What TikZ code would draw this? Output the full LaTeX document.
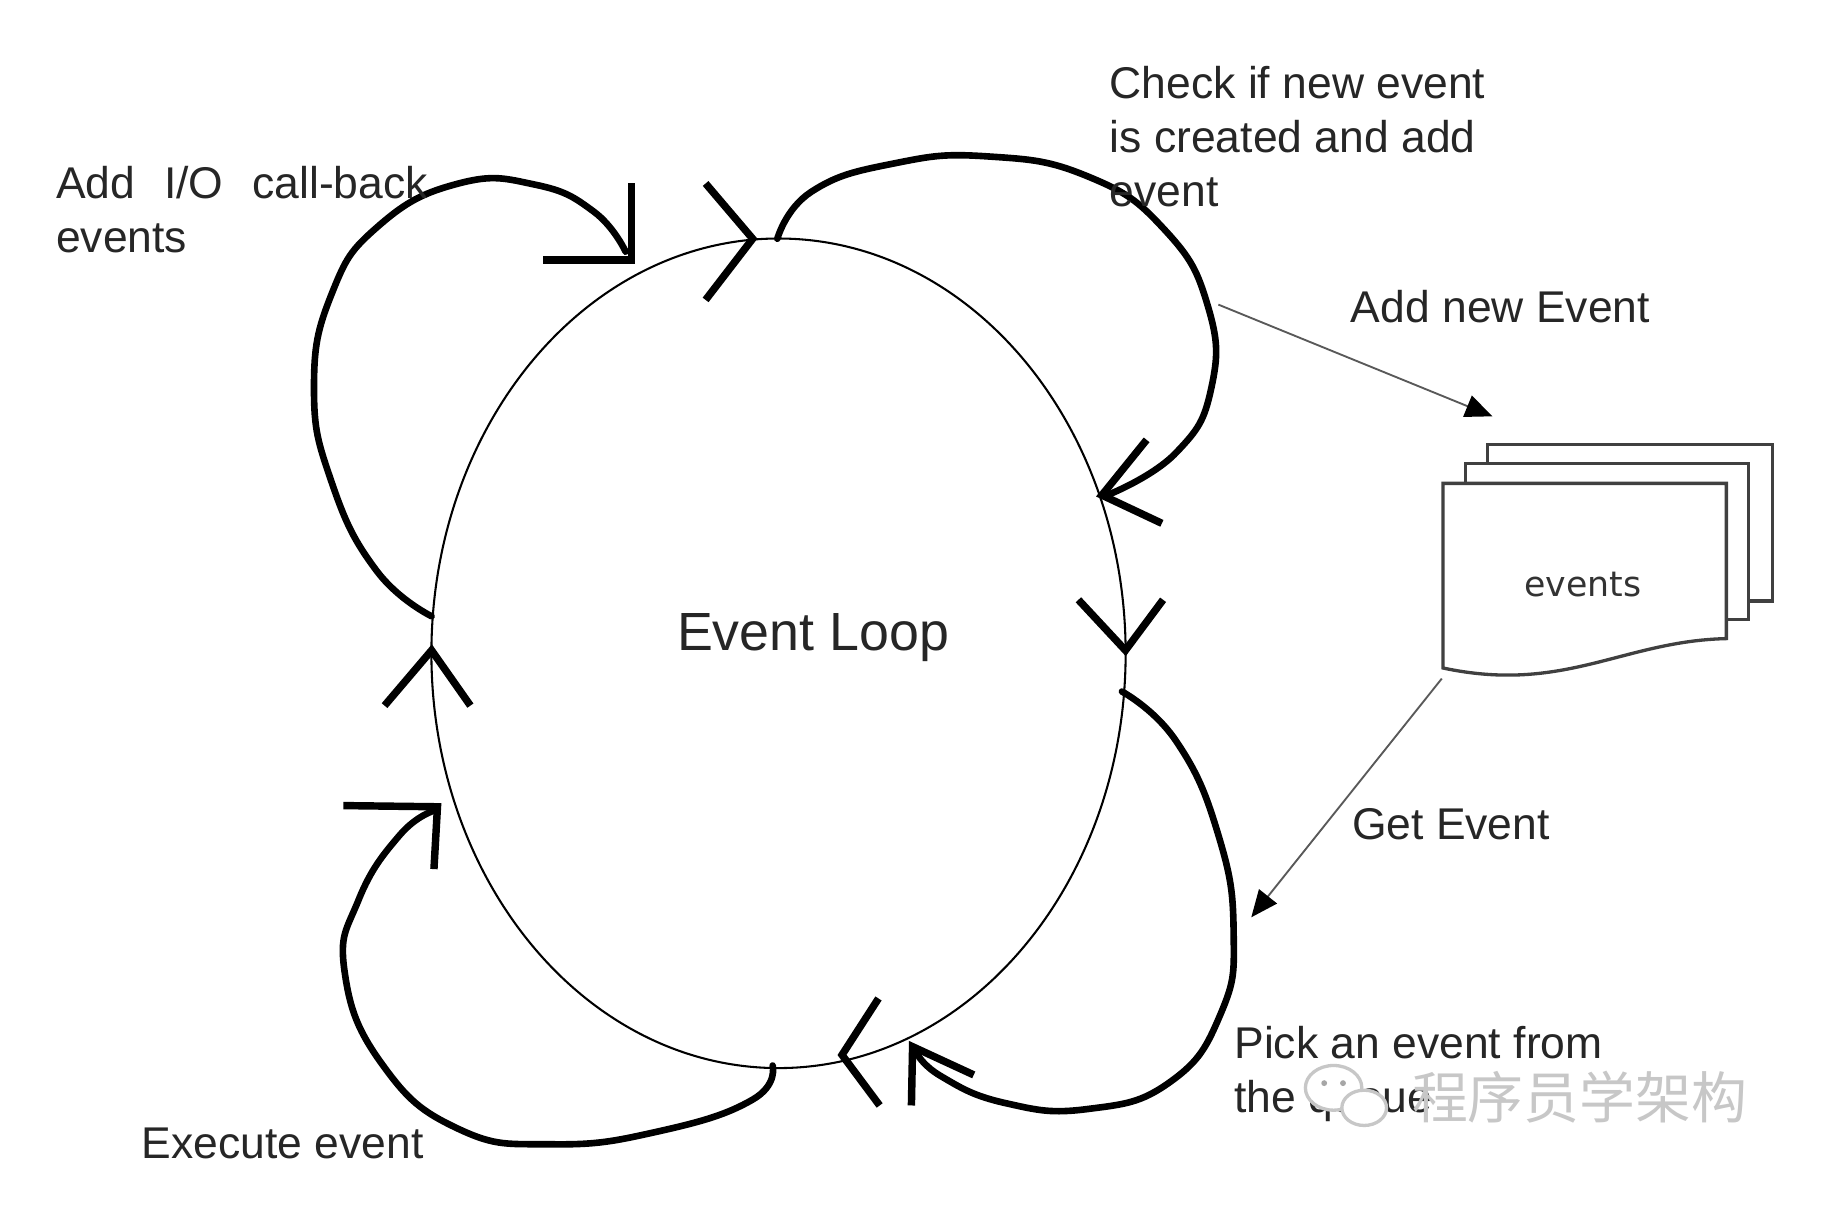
\documentclass[tikz,border=0pt]{standalone}
\usepackage{fontspec}
\setmainfont{Liberation Sans}
\newfontfamily\evfont{DejaVu Sans}
\newfontfamily\cjkfont{Noto Sans CJK SC}
\usetikzlibrary{arrows.meta,shapes.geometric}
\begin{document}
\begin{tikzpicture}[x=0.01cm,y=-0.01cm,
  lbl/.style={inner sep=0pt, text=black!85, anchor=base west, align=left,
    font=\fontsize{10.75pt}{13.1pt}\selectfont},
  loopline/.style={line width=1.6pt, line cap=round, line join=round},
  headline/.style={line width=1.8pt, line cap=butt, line join=miter},
  thinarrow/.style={line width=0.45pt, draw=black!65,
    -{Triangle[length=6.5pt,width=5.5pt,color=black]}},
  docbox/.style={draw=black!75, line width=0.8pt, fill=white}
]
\useasboundingbox (0,0) rectangle (1568,1029);
\fill[white] (0,0) rectangle (1568,1029);

% main ellipse
\node[draw, ellipse, minimum width=5.9cm, minimum height=7.05cm, inner sep=0pt,
  line width=0.5pt] (loop) at (662,555.5) {};
\node[inner sep=0pt, anchor=base west, text=black!85,
  font=\fontsize{13pt}{15pt}\selectfont] (title) at (575,553) {Event Loop};

% open arrowheads on the ellipse
\draw[headline] (600,156) -- (640,203) -- (600,255);
\draw[headline] (917,510) -- (957,553) -- (989,510);
\draw[headline] (747,849) -- (716,897) -- (748,940);
\draw[headline] (327,600) -- (367,553) -- (400,600);

% named end points of the loops
\coordinate (a0) at (367,524);
\coordinate (a1) at (537,221);
\coordinate (b0) at (661,203);
\coordinate (b1) at (937,421);
\coordinate (c0) at (954,588);
\coordinate (c1) at (776,890);
\coordinate (d0) at (657,906);
\coordinate (d1) at (372,686);

% loop A : Add I/O call-back events
\draw[loopline] plot[smooth, tension=0.8] coordinates {(a0) (320,485)
  (282,410) (267,330) (282,250) (322,192) (390,156) (455,157) (505,180) (532,214)};
\draw[headline] (537,156) -- (a1) -- (462,221);

% loop B : check if new event
\draw[loopline] plot[smooth, tension=0.8] coordinates {(b0) (690,163)
  (760,139) (840,133) (925,150) (990,195) (1027,260) (1030,330) (1000,385) (944,420)};
\draw[headline] (975,374) -- (b1) -- (988,445);

% loop C : pick an event from the queue
\draw[loopline] plot[smooth, tension=0.8] coordinates {(c0) (1000,630)
  (1036,710) (1049,793) (1038,862) (995,920) (925,943) (855,938) (800,915) (778,893)};
\draw[headline] (775,940) -- (c1) -- (828,914);

% loop D : execute event
\draw[loopline] plot[smooth, tension=0.8] coordinates {(d0) (640,935)
  (560,962) (470,973) (390,960) (325,905) (293,826) (305,765) (340,710) (370,689)};
\draw[headline] (292,685) -- (d1) -- (369,739);

% event queue (stacked documents)
\draw[docbox] (1265,378) rectangle (1507,511);
\draw[docbox] (1246,394) rectangle (1487,527);
\draw[docbox] (1227,568) -- (1227,411) -- (1468,411) -- (1468,543)
  .. controls (1380,545) and (1330,590) .. (1227,568) -- cycle;
\node[inner sep=0pt, anchor=base, text=black!80,
  font=\evfont\fontsize{8.4pt}{10pt}\selectfont] (docs) at (1346,507) {events};

% thin arrows to and from the queue
\coordinate (ane0) at (1036,259);
\coordinate (ane1) at (1269,354);
\coordinate (ge0) at (1226,577);
\coordinate (ge1) at (1064,780);
\draw[thinarrow] (ane0) -- (ane1);
\draw[thinarrow] (ge0) -- (ge1);

% labels (multi-line nodes: base = last line)
\node[lbl] (t1) at (47,215) {Add\hspace{7pt}I/O\hspace{7pt}call-back\\events};
\node[lbl] (t2) at (943,176) {Check if new event\\is created and add\\event};
\node[lbl] (t3) at (1148,274) {Add new Event};
\node[lbl] (t4) at (1149,714) {Get Event};
\node[lbl] (t5) at (1049,946) {Pick an event from\\the queue};
\node[lbl] (t6) at (120,985) {Execute event};

% watermark
\draw[black!22, fill=white, line width=0.8pt] (1134,925) ellipse (24 and 19);
\draw[black!22, fill=white, line width=0.8pt] (1160,942) ellipse (19 and 15);
\fill[black!35] (1126,921) circle (2.5) (1142,921) circle (2.5);
\node[inner sep=0pt, anchor=west, text=black!22,
  font=\cjkfont\fontsize{13.5pt}{16pt}\selectfont] (wm) at (1200,933) {程序员学架构};
\end{tikzpicture}
\end{document}
